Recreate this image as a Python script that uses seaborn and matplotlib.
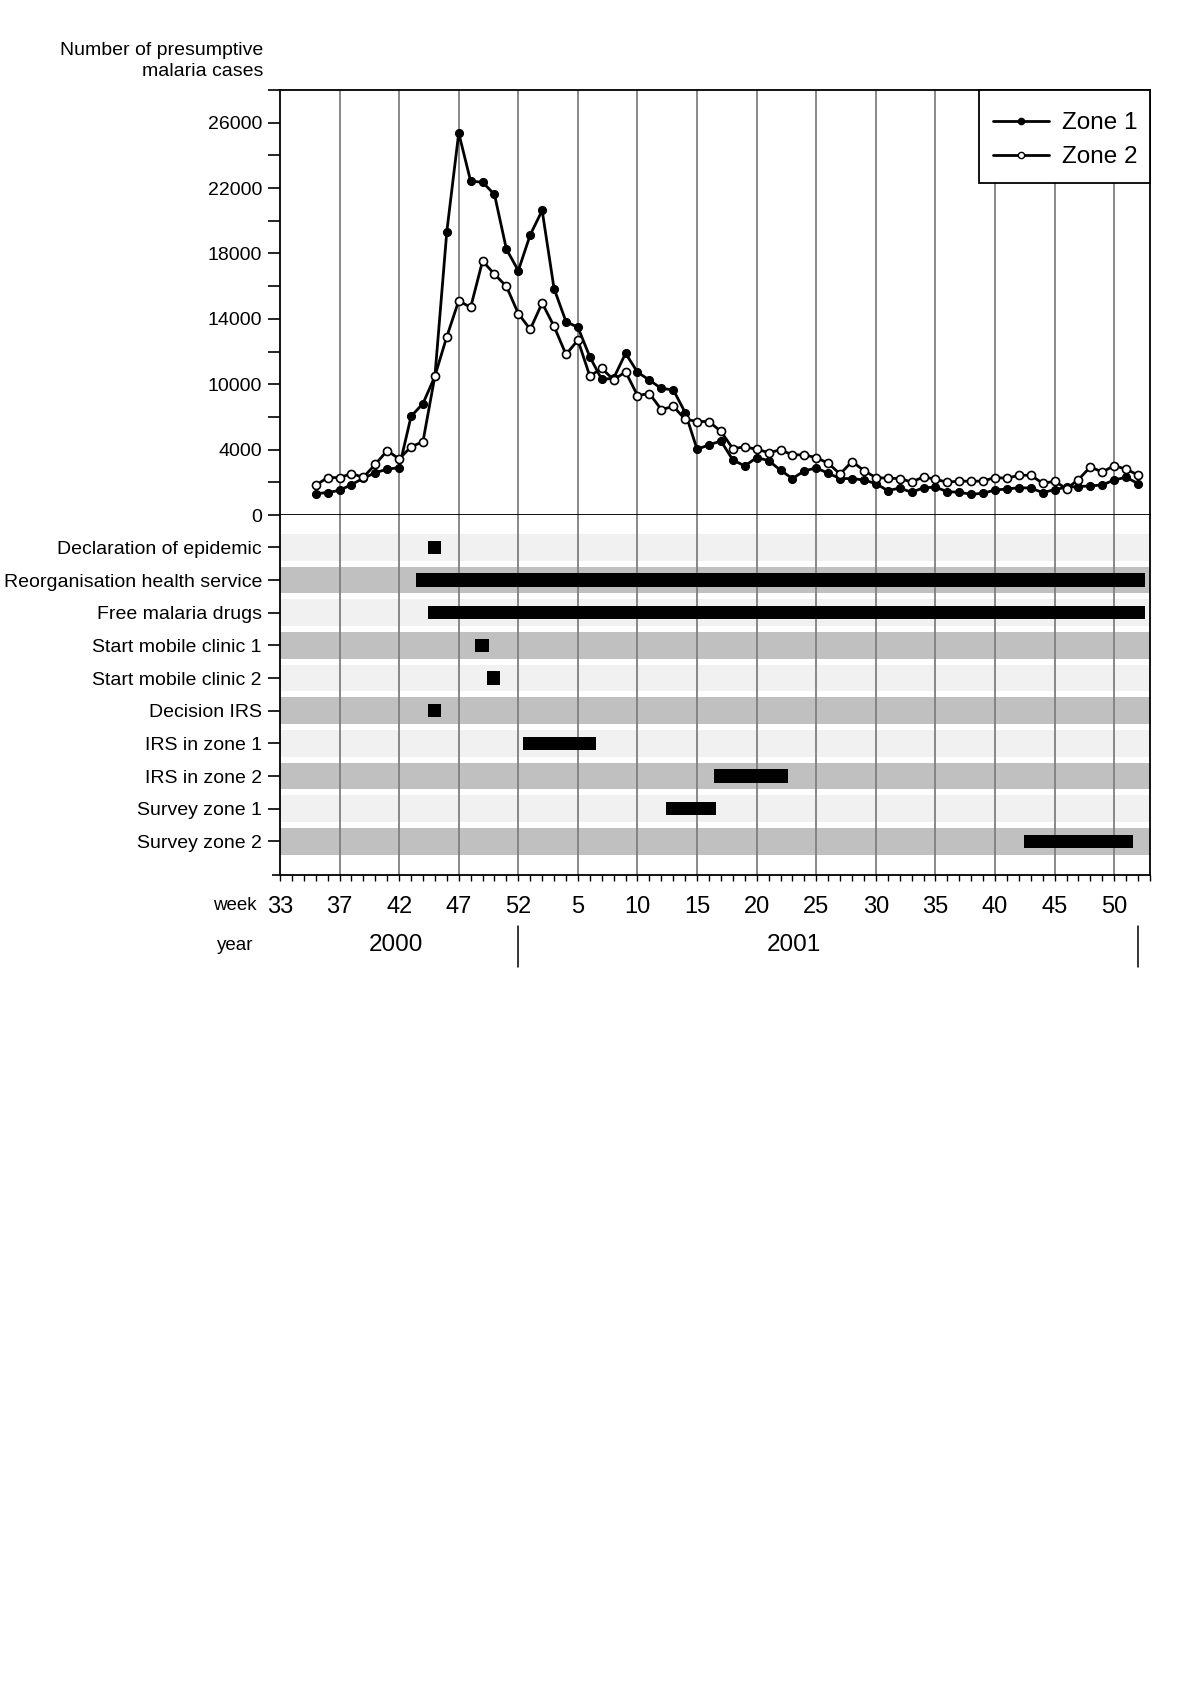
import numpy as np
import matplotlib.pyplot as plt
import matplotlib.transforms as mtransforms
from matplotlib.lines import Line2D
from matplotlib.patches import Rectangle
import seaborn as sns

sns.set_style('ticks')
plt.rcParams['font.family'] = ['Liberation Sans', 'DejaVu Sans']
plt.rcParams['text.color'] = 'black'
plt.rcParams['xtick.color'] = 'black'
plt.rcParams['ytick.color'] = 'black'

# semanas (indice continuo, 0 = primera marca del eje)
weeks = list(range(3, 73))
zone1 = [1310, 1370, 1510, 1860, 2250, 2590, 2800, 2900, 6030, 6820,
         8480, 17340, 23370, 20420, 20360, 19610, 16260, 14950, 17140, 18630,
         13850, 11830, 11480, 9680, 8290, 8370, 9890, 8740, 8250, 7740,
         7660, 6270, 4020, 4290, 4530, 3370, 3000, 3510, 3330, 2740,
         2230, 2700, 2880, 2550, 2230, 2230, 2140, 1920, 1490, 1650,
         1390, 1670, 1700, 1430, 1390, 1270, 1330, 1530, 1590, 1670,
         1650, 1370, 1550, 1700, 1740, 1780, 1840, 2140, 2310, 1920]
zone2 = [1820, 2290, 2290, 2530, 2310, 3100, 3940, 3430, 4170, 4490,
         8500, 10910, 13110, 12700, 15540, 14730, 13990, 12320, 11360, 12970,
         11540, 9820, 10700, 8500, 8970, 8270, 8760, 7310, 7430, 6450,
         6640, 5860, 5720, 5720, 5110, 4060, 4170, 4020, 3820, 3980,
         3680, 3680, 3510, 3170, 2510, 3270, 2720, 2290, 2250, 2230,
         2020, 2330, 2190, 2000, 2080, 2060, 2080, 2290, 2250, 2430,
         2430, 1940, 2060, 1610, 2170, 2940, 2630, 3020, 2800, 2450]

y_tick_labels = ['0', '4000', '10000', '14000', '18000', '22000', '26000']
week_labels = ['33', '37', '42', '47', '52', '5', '10', '15', '20', '25',
               '30', '35', '40', '45', '50']

actividades = ['Declaration of epidemic', 'Reorganisation health service',
               'Free malaria drugs', 'Start mobile clinic 1', 'Start mobile clinic 2',
               'Decision IRS', 'IRS in zone 1', 'IRS in zone 2',
               'Survey zone 1', 'Survey zone 2']
inicio = [12.4, 11.4, 12.4, 16.4, 17.4, 12.4, 20.4, 36.4, 32.4, 62.4]
fin = [13.5, 72.6, 72.6, 17.5, 18.5, 13.5, 26.5, 42.6, 36.6, 71.6]

years = ['2000', '2001']
year_pos = [9.7, 43.1]
year_breaks = [20, 72]

grid_col = '#7f7f7f'
fig = plt.figure(figsize=(12, 16.98), dpi=100)
ax1 = fig.add_axes([0.2333, 0.6967, 0.725, 0.2503])
ax2 = fig.add_axes([0.2333, 0.4847, 0.725, 0.2120])

# grafica superior: casos por semana
xmax = 73
grid_x = np.arange(5, 71, 5)
ax1.set_xlim(0, xmax)
ax1.set_ylim(0, 26000)
ax1.vlines(grid_x, 0, 26000, color=grid_col, lw=1.3, zorder=1)
sns.lineplot(x=weeks, y=zone1, ax=ax1, color='black', lw=2.0, marker='o',
             markersize=5.8, markerfacecolor='black', markeredgecolor='black',
             legend=False, zorder=3)
sns.lineplot(x=weeks, y=zone2, ax=ax1, color='black', lw=2.0, marker='o',
             markersize=5.8, markerfacecolor='white', markeredgecolor='black',
             markeredgewidth=1.2, legend=False, zorder=4)
yt = np.arange(0, 26001, 2000)
ax1.set_yticks(yt)
ax1.set_yticklabels([y_tick_labels[i // 2] if i % 2 == 0 else '' for i in range(len(yt))])
ax1.tick_params(axis='y', length=9, width=1.2, labelsize=14, pad=4)
ax1.set_xticks([])
for s in ax1.spines.values():
    s.set_linewidth(1.3)
    s.set_color('black')

# caja de la leyenda
ax1.add_patch(Rectangle((0.8034, 0.781), 0.1966, 0.219, transform=ax1.transAxes,
                        facecolor='white', edgecolor='black', lw=1.3, zorder=4.9,
                        clip_on=False))
handles = [Line2D([], [], color='black', lw=2.0, marker='o', ms=4.5, mfc='black', mec='black'),
           Line2D([], [], color='black', lw=2.0, marker='o', ms=4.5, mfc='white', mec='black')]
leg = ax1.legend(handles, ['Zone 1', 'Zone 2'], loc='center', bbox_to_anchor=(0.9029, 0.882),
                 fontsize=17.5, frameon=False, borderpad=0, borderaxespad=0,
                 handlelength=2.3, handletextpad=0.53, labelspacing=0.5)
leg.set_zorder(6)

fig.text(263 / 1200, 1 - 61 / 1698, 'Number of presumptive\nmalaria cases',
         ha='right', va='center', fontsize=14, linespacing=1.28)

# grafica inferior: intervenciones
n = len(actividades)
rows = np.arange(n)
ybot = n + 0.03
ax2.set_xlim(0, xmax)
ax2.set_ylim(ybot, -0.99)
for i in rows:
    ax2.axhspan(i - 0.41, i + 0.41, color='#f1f1f1' if i % 2 == 0 else '#c0c0c0', lw=0, zorder=0)
ax2.vlines(grid_x, -0.99, ybot, color=grid_col, lw=1.3, zorder=1)
ax2.barh(rows, np.array(fin) - np.array(inicio), left=inicio, height=0.41,
         color='black', lw=0, zorder=3)
ax2.set_yticks(rows)
ax2.set_yticklabels(actividades)
ax2.set_yticks([ybot], minor=True)
ax2.tick_params(axis='y', length=9, width=1.2, labelsize=14, pad=4)
ax2.tick_params(axis='y', which='minor', length=6, width=1.2)
ax2.set_xticks(np.arange(0, 71, 5))
ax2.set_xticklabels(week_labels)
ax2.set_xticks(np.arange(0, xmax + 1, 1), minor=True)
ax2.tick_params(axis='x', which='both', length=4.5, width=1, labelsize=17, pad=10.5)
ax2.spines['top'].set_visible(False)
for s in ['left', 'right', 'bottom']:
    ax2.spines[s].set_linewidth(1.3)
    ax2.spines[s].set_color('black')

fig.text(235 / 1200, 1 - 906 / 1698, 'week', ha='center', va='center', fontsize=13.5)
fig.text(235 / 1200, 1 - 946 / 1698, 'year', ha='center', va='center', fontsize=13.5)

blend = mtransforms.blended_transform_factory(ax2.transData, fig.transFigure)
for lab, xp in zip(years, year_pos):
    ax2.text(xp, 1 - 945 / 1698, lab, transform=blend, ha='center', va='center', fontsize=17.5)
for xb in year_breaks:
    ax2.plot([xb, xb], [1 - 926 / 1698, 1 - 967 / 1698], transform=blend,
             color='black', lw=1.1, clip_on=False)

plt.savefig('out.png', dpi=100)
